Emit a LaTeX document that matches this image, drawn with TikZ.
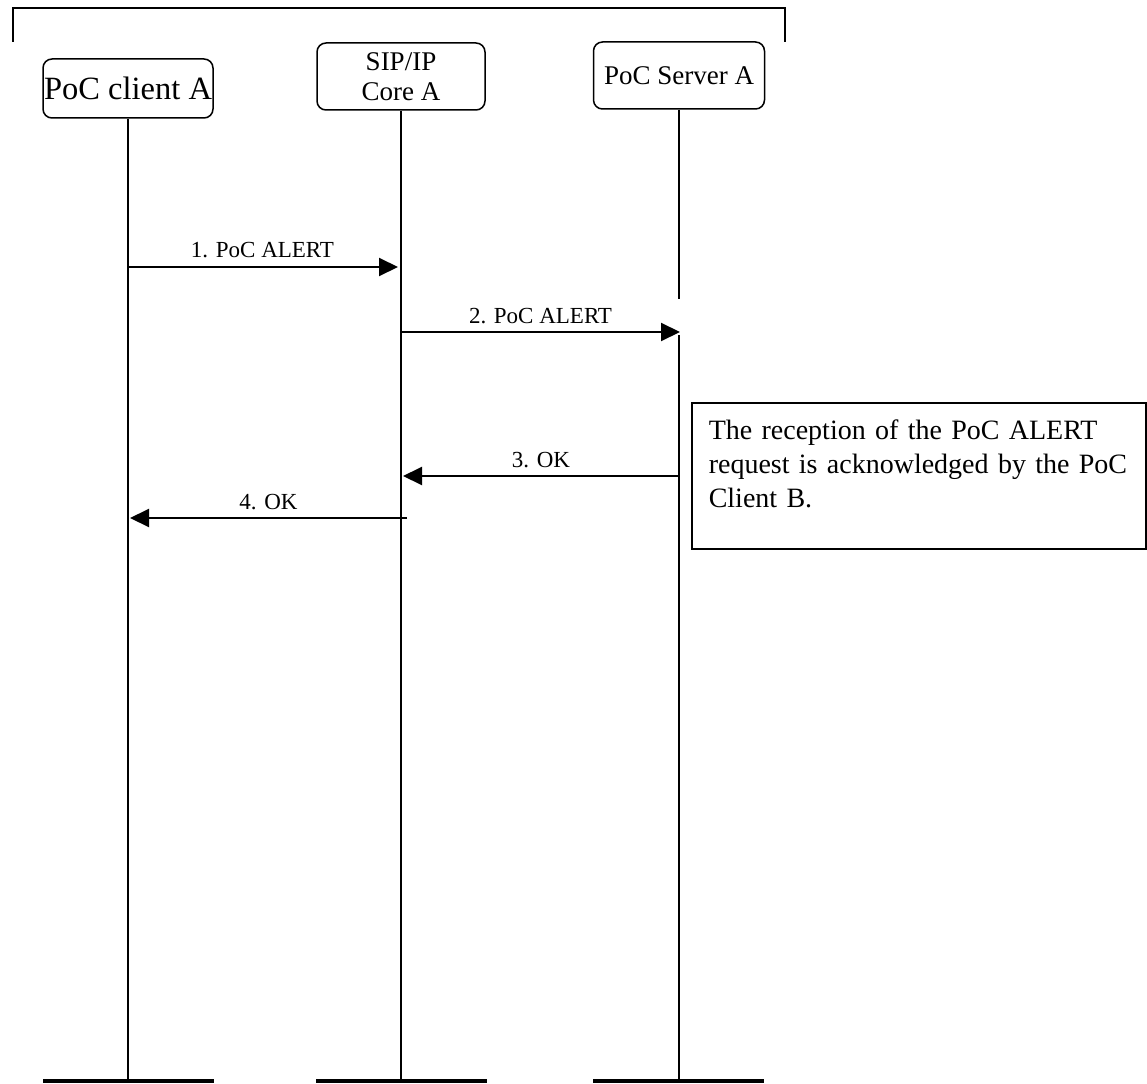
\documentclass[tikz,border=0pt]{standalone}
\usepackage{fontspec}
\setmainfont{Liberation Serif}
\usetikzlibrary{arrows.meta, positioning}

\begin{document}
\begin{tikzpicture}[
    x=1pt, y=-1pt,
    entity/.style={rectangle, draw, rounded corners=9pt, line width=1.5pt, inner sep=0pt, align=center},
    lifeline/.style={line width=1.3pt},
    endbar/.style={rectangle, fill=black, minimum width=171pt, minimum height=4pt, inner sep=0pt},
    msg/.style={-{Triangle[length=19pt, width=18pt]}, line width=2pt},
    msglabel/.style={font=\fontsize{23}{26}\selectfont, inner sep=0pt, text depth=0pt, above=8pt},
    notebox/.style={rectangle, draw, line width=1.5pt, anchor=north west, text width=420pt, inner xsep=17pt, inner ysep=0pt, align=left, text height=37pt, text depth=109pt, font=\fontsize{28}{34}\selectfont}
]
\useasboundingbox (0,0) rectangle (1147,1083);

% Frame on top
\draw [line width=2pt] (13,42) -- (13,8) -- (785,8) -- (785,42);

% Entities
\node (clientA) [entity, minimum width=170pt, minimum height=59pt, font=\fontsize{32.5}{36}\selectfont] at (128,88.5) {PoC client A};
\node (coreA) [entity, minimum width=168pt, minimum height=67pt, font=\fontsize{27}{30}\selectfont] at (401,76.5) {SIP/IP\\Core A};
\node (serverA) [entity, minimum width=171pt, minimum height=67pt, font=\fontsize{27}{30}\selectfont] at (679,75.5) {PoC Server A};

% End bars
\node (endA) [endbar] at (128.5,1081) {};
\node (endC) [endbar] at (401.5,1081) {};
\node (endS) [endbar] at (678.5,1081) {};

% Lifelines
\coordinate (srvBreak1) at (679,299);
\coordinate (srvBreak2) at (679,335);
\draw [lifeline] (clientA.south) -- (clientA.south |- endA.north);
\draw [lifeline] (coreA.south) -- (coreA.south |- endC.north);
\draw [lifeline] (serverA.south) -- (srvBreak1);
\draw [lifeline] (srvBreak2) -- (srvBreak2 |- endS.north);

% Messages
\coordinate (m1s) at (127,267);
\coordinate (m1e) at (398,267);
\coordinate (m2s) at (401,332);
\coordinate (m2e) at (680,332);
\coordinate (m3s) at (679,476);
\coordinate (m3e) at (403,476);
\coordinate (m4s) at (407,518);
\coordinate (m4e) at (130,518);

\draw [msg] (m1s) -- node [msglabel] {1. PoC ALERT} (m1e);
\draw [msg] (m2s) -- node [msglabel] {2. PoC ALERT} (m2e);
\draw [msg] (m3s) -- node [msglabel] {3. OK} (m3e);
\draw [msg] (m4s) -- node [msglabel] {4. OK} (m4e);

% Side note
\node (note) [notebox] at (691,402) {\mbox{The reception of the PoC ALERT}\\\mbox{request is acknowledged by the PoC}\\Client B.};

\end{tikzpicture}
\end{document}
